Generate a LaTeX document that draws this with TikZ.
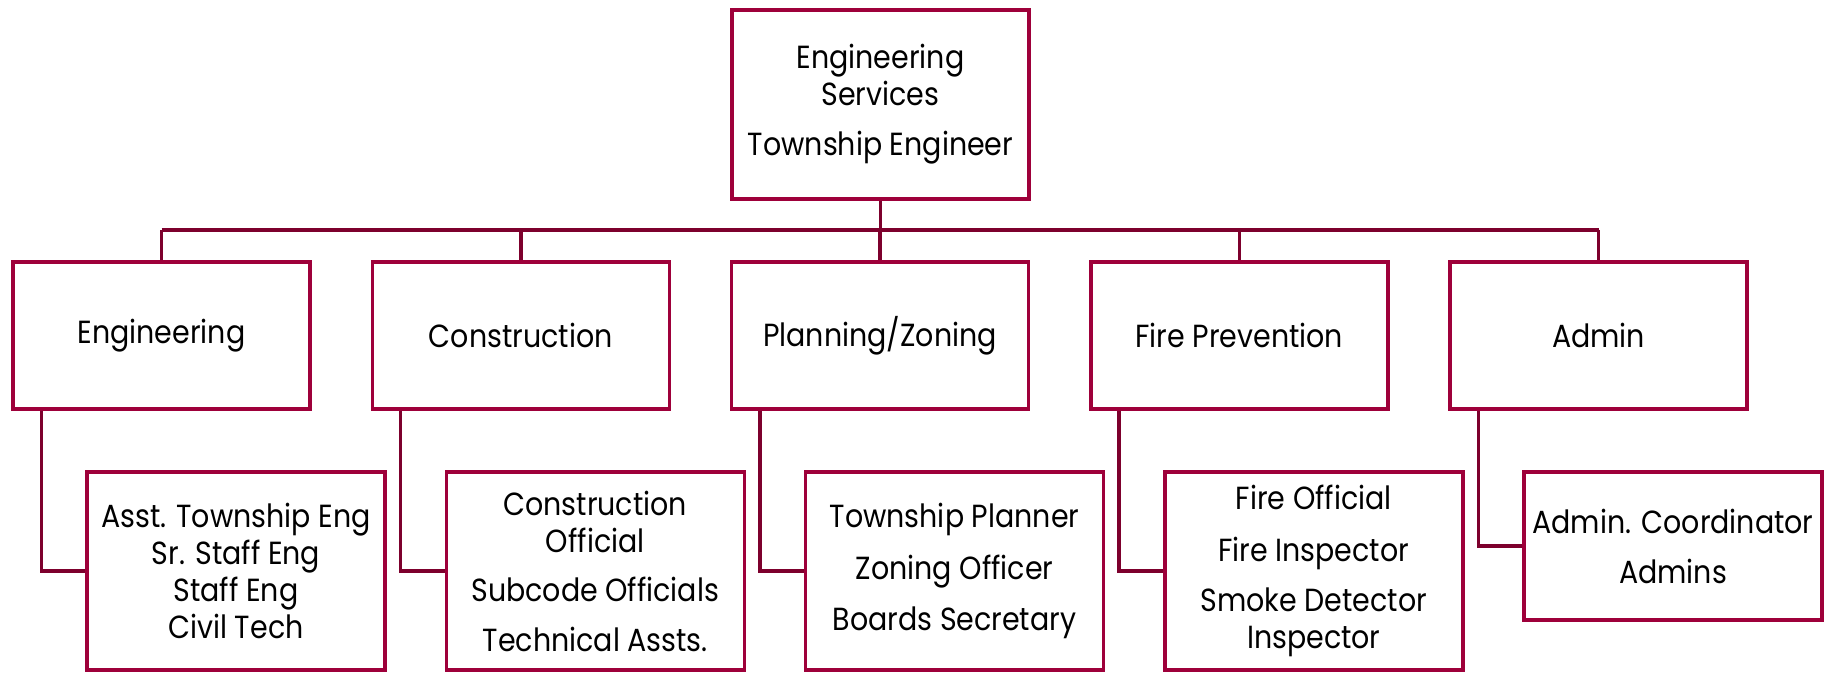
\documentclass[tikz,border=0pt]{standalone}
\usepackage{fontspec}
\setmainfont{Poppins}[FakeStretch=0.89]
\definecolor{boxred}{RGB}{158,0,58}
\definecolor{linkred}{RGB}{125,0,45}
\tikzset{
  orgbox/.style={draw=boxred, line width=3.5pt, fill=white, align=center,
    minimum width=297pt, inner sep=2pt,
    font=\fontsize{32pt}{37pt}\selectfont},
  link/.style={draw=linkred, line width=3.5pt}
}
\begin{document}
\begin{tikzpicture}[x=1pt,y=-1pt]
\useasboundingbox (0,0) rectangle (1835,672);
\node[orgbox, minimum height=189pt] (top) at (880.5,104.5) {Engineering\\Services\\[13pt]Township Engineer};
\node[orgbox, minimum height=147pt] (eng) at (161.5,335.5) {Engineering};
\node[orgbox, minimum height=147pt] (con) at (520.75,335.5) {Construction};
\node[orgbox, minimum height=147pt] (pla) at (880,335.5) {Planning/Zoning};
\node[orgbox, minimum height=147pt] (fir) at (1239.25,335.5) {Fire Prevention};
\node[orgbox, minimum height=147pt] (adm) at (1598.5,335.5) {Admin};
\node[orgbox, minimum width=298pt, minimum height=198pt] (engs) at (236,571) {Asst. Township Eng\\Sr. Staff Eng\\Staff Eng\\Civil Tech};
\node[orgbox, minimum width=298pt, minimum height=198pt] (cons) at (595.25,571) {Construction\\Official\\[12pt]Subcode Officials\\[13pt]Technical Assts.};
\node[orgbox, minimum width=298pt, minimum height=198pt] (plas) at (954.5,571) {Township Planner\\[14.5pt]Zoning Officer\\[14.5pt]Boards Secretary};
\node[orgbox, minimum width=298pt, minimum height=198pt] (firs) at (1313.75,571) {Fire Official\\[15pt]Fire Inspector\\[13pt]Smoke Detector\\Inspector};
\node[orgbox, minimum width=298pt, minimum height=148pt] (adms) at (1673,546) {Admin. Coordinator\\[13pt]Admins};
\coordinate (bus) at (880.5,230);
\draw[link] (top.south) -- (bus);
\draw[link] (eng.north |- bus) -- (adm.north |- bus);
\foreach \n in {eng,con,pla,fir,adm}{
  \draw[link] (\n.north) -- (\n.north |- bus);
}
\foreach \n in {eng,con,pla,fir,adm}{
  \draw[link] ([xshift=30pt]\n.south west) |- (\n s.west);
}
\end{tikzpicture}
\end{document}
